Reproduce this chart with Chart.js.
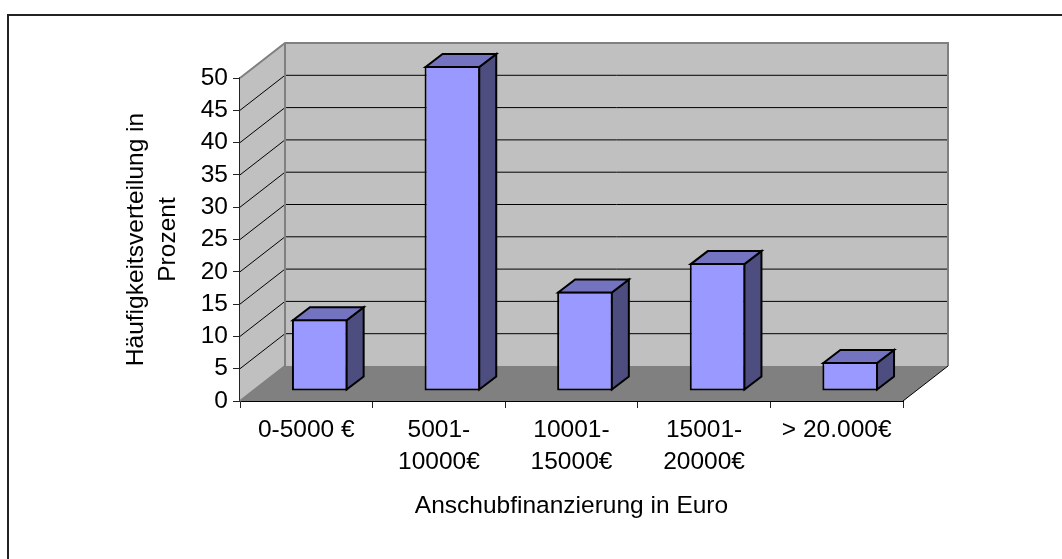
<!DOCTYPE html>
<html>
<head>
<meta charset="utf-8">
<title>Anschubfinanzierung</title>
<script src="https://cdn.jsdelivr.net/npm/chart.js@4"></script>
<style>
  html, body { margin: 0; padding: 0; background: #fff; }
  canvas { display: block; }
</style>
</head>
<body>
<canvas id="chart" width="1062" height="559"></canvas>
<script>
// Kategorien, Werte, Achsenbeschriftung
const categories = ["0-5000 €", ["5001-", "10000€"], ["10001-", "15000€"], ["15001-", "20000€"], "> 20.000€"];
const shares = [11.1, 50.3, 15.4, 19.8, 4.5];
const yTicks = [0, 5, 10, 15, 20, 25, 30, 35, 40, 45, 50];
const xTitle = "Anschubfinanzierung in Euro";
const yTitle = ["Häufigkeitsverteilung in", "Prozent"];

const fontFamily = "'Liberation Sans', Arial, sans-serif";
const fontSize = 24.5;
const wallDepth = { x: 45, y: 35 };  // hintere Wand
const barShift = { x: 13.5, y: -10 };  // Balken stehen im Raum
const barDepth = { x: 17, y: 13 };

function poly(ctx, pts, fill, stroke, width) {
    ctx.beginPath();
    pts.forEach((p, i) => i ? ctx.lineTo(p[0], p[1]) : ctx.moveTo(p[0], p[1]));
    ctx.closePath();
    if (fill) { ctx.fillStyle = fill; ctx.fill(); }
    if (stroke) { ctx.strokeStyle = stroke; ctx.lineWidth = width; ctx.stroke(); }
}

function line(ctx, pts, color, width) {
    ctx.beginPath();
    pts.forEach((p, i) => i ? ctx.lineTo(p[0], p[1]) : ctx.moveTo(p[0], p[1]));
    ctx.strokeStyle = color;
    ctx.lineWidth = width;
    ctx.stroke();
}

// Rahmen, Waende und Boden
const roomPlugin = {
    id: "room",
    beforeDatasetsDraw(chart) {
        const ctx = chart.ctx;
        const y = chart.scales.y;
        const { left, right } = chart.chartArea;
        const dx = wallDepth.x, dy = wallDepth.y;
        const y0 = y.getPixelForValue(yTicks[0]);
        const yTop = y.getPixelForValue(yTicks[yTicks.length - 1]);
        ctx.save();
        line(ctx, [[8, 559], [8, 15], [1062, 15]], "#222", 2);
        poly(ctx, [[left, y0], [left, yTop], [left + dx, yTop - dy], [left + dx, y0 - dy]], "#c0c0c0");
        poly(ctx, [[left + dx, yTop - dy], [right + dx, yTop - dy], [right + dx, y0 - dy], [left + dx, y0 - dy]], "#c0c0c0");
        poly(ctx, [[left, y0], [left + dx, y0 - dy], [right + dx, y0 - dy], [right, y0]], "#808080");
        yTicks.slice(1, -1).forEach(v => {
            const py = y.getPixelForValue(v);
            line(ctx, [[left, py], [left + dx, py - dy], [right + dx, py - dy]], "#000", 1);
        });
        line(ctx, [[left, yTop], [left + dx, yTop - dy], [right + dx, yTop - dy], [right + dx, y0 - dy]], "#808080", 2);
        line(ctx, [[left + dx, yTop - dy], [left + dx, y0 - dy], [left, y0]], "#808080", 2);
        line(ctx, [[right, y0], [right + dx, y0 - dy]], "#000", 1);
        ctx.restore();
    },
    beforeDatasetDraw(chart) {
        chart.ctx.save();
        chart.ctx.translate(barShift.x, barShift.y);
    },
    afterDatasetDraw(chart) {
        const ctx = chart.ctx;
        const dx = barDepth.x, dy = barDepth.y;
        chart.getDatasetMeta(0).data.forEach(bar => {
            const l = bar.x - bar.width / 2 + 1, r = bar.x + bar.width / 2 - 1;
            const t = bar.y + 1, b = bar.base - 1;
            poly(ctx, [[r, t], [r + dx, t - dy], [r + dx, b - dy], [r, b]], "#4d4d80", "#000", 2);
            poly(ctx, [[l, t], [l + dx, t - dy], [r + dx, t - dy], [r, t]], "#7373bf", "#000", 2);
        });
        ctx.restore();
    }
};

new Chart(document.getElementById("chart"), {
    type: "bar",
    data: {
        labels: categories,
        datasets: [{
            data: shares,
            backgroundColor: "#9999ff",
            borderColor: "#000",
            borderWidth: 2,
            borderSkipped: false,
            categoryPercentage: 1,
            barPercentage: 0.42,
            clip: false
        }]
    },
    options: {
        responsive: false,
        animation: false,
        layout: { padding: { left: 0, top: 78, right: 159, bottom: 0 } },
        plugins: { legend: { display: false }, tooltip: { enabled: false } },
        scales: {
            x: {
                afterFit(scale) { scale.height = 158; },
                border: { color: "#000", width: 2 },
                grid: { drawOnChartArea: false, drawTicks: true, tickLength: 7, color: "#222" },
                ticks: {
                    autoSkip: false, maxRotation: 0, padding: 6, color: "#000",
                    font: { family: fontFamily, size: fontSize, lineHeight: 32 / fontSize }
                },
                title: {
                    display: true, text: xTitle, color: "#000",
                    font: { family: fontFamily, size: fontSize, lineHeight: 32 / fontSize },
                    padding: { top: 0, bottom: 37 }
                }
            },
            y: {
                min: yTicks[0],
                max: yTicks[yTicks.length - 1],
                afterFit(scale) { scale.width = 240; },
                afterBuildTicks(scale) { scale.ticks = yTicks.map(v => ({ value: v })); },
                border: { color: "#222", width: 2 },
                grid: { drawOnChartArea: false, drawTicks: true, tickLength: 7, color: "#222" },
                ticks: {
                    autoSkip: false, padding: 5, color: "#000",
                    font: { family: fontFamily, size: fontSize }
                },
                title: {
                    display: true, text: yTitle, color: "#000",
                    font: { family: fontFamily, size: fontSize, lineHeight: 32 / fontSize },
                    padding: { top: 120, bottom: 0 }
                }
            }
        }
    },
    plugins: [roomPlugin]
});
</script>
</body>
</html>
